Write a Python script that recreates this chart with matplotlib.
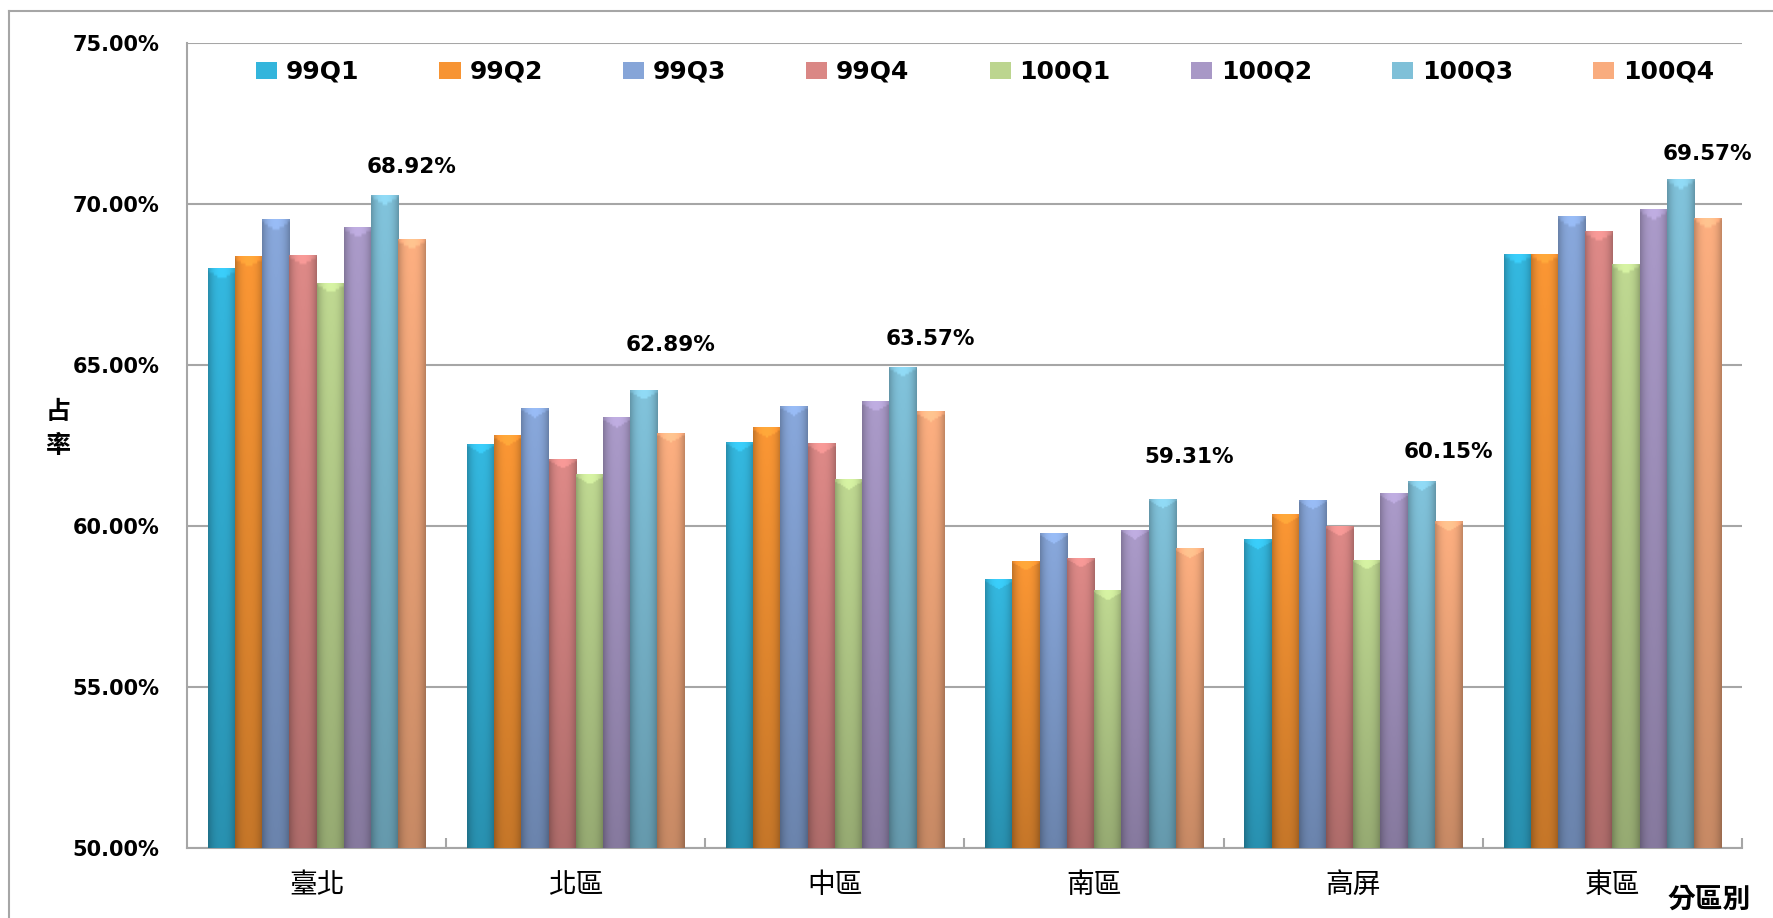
import numpy as np
import matplotlib
matplotlib.use("Agg")
import matplotlib.pyplot as plt
from matplotlib.colors import to_rgb
from matplotlib.lines import Line2D
from matplotlib.ticker import FuncFormatter

# values (percent)
regions = ["臺北", "北區", "中區", "南區", "高屏", "東區"]
quarters = ["99Q1", "99Q2", "99Q3", "99Q4", "100Q1", "100Q2", "100Q3", "100Q4"]
q99_1 = [68.00, 62.56, 62.62, 58.35, 59.59, 68.46]
q99_2 = [68.37, 62.82, 63.07, 58.92, 60.36, 68.46]
q99_3 = [69.53, 63.68, 63.74, 59.77, 60.81, 69.62]
q99_4 = [68.43, 62.09, 62.57, 59.02, 60.00, 69.17]
q100_1 = [67.56, 61.60, 61.45, 58.01, 58.95, 68.15]
q100_2 = [69.29, 63.37, 63.88, 59.88, 61.02, 69.83]
q100_3 = [70.29, 64.23, 64.95, 60.84, 61.41, 70.79]
q100_4 = [68.92, 62.89, 63.57, 59.31, 60.15, 69.57]
series = [q99_1, q99_2, q99_3, q99_4, q100_1, q100_2, q100_3, q100_4]

colors = ["#33B5DC", "#F79433", "#86A5D8", "#DA8785",
          "#BCD58F", "#A898C6", "#7FC0D8", "#F9AC7E"]
# how far the 100Q4 label sits above the tallest bar of each group
label_lift = [0.85, 1.4, 0.85, 1.3, 0.9, 0.75]

W, H = 1773, 918
cjk = ["Noto Sans CJK TC", "DejaVu Sans"]
grey = "#a6a6a6"


def shade(ax, bar, base):
    x0, y0 = bar.get_x(), bar.get_y()
    w, h = bar.get_width(), bar.get_height()
    u = np.linspace(0, 1, 24)[None, :]
    v = np.linspace(0, 1, 240)[:, None]
    fac = (0.80 + 0.22 * v) * (1 - 0.22 * np.abs(2 * u - 1) ** 2.5)
    # lighter bevel at the top
    dist = (1 - v) * h
    bevel = dist < 0.30 * (1 - 0.8 * np.abs(2 * u - 1))
    fac = np.where(bevel, fac * 1.12, fac)
    img = np.clip(np.array(to_rgb(base))[None, None, :] * fac[:, :, None], 0, 1)
    im = ax.imshow(img, extent=(x0, x0 + w, y0, y0 + h), origin="lower",
                   aspect="auto", interpolation="bilinear", zorder=3.2)
    im.set_clip_path(bar)


fig = plt.figure(figsize=(W / 100, H / 100), dpi=100)
ax = fig.add_axes([187 / W, 1 - 848 / H, (1742 - 187) / W, (848 - 43) / H])

x = np.arange(len(regions))
bw = 0.105
for j, (vals, c) in enumerate(zip(series, colors)):
    vals = np.array(vals)
    bars = ax.bar(x + (j - 3.5) * bw, vals - 50, bw, bottom=50, color=c,
                  linewidth=0, label=quarters[j], zorder=3)
    for b in bars:
        shade(ax, b, c)

tops = np.max(np.array(series), axis=0)
for i in range(len(regions)):
    ax.text(x[i] + 3.5 * bw, tops[i] + label_lift[i], f"{q100_4[i]:.2f}%",
            ha="center", va="center", fontsize=15.5, fontweight="bold",
            family="DejaVu Sans", zorder=5)

ax.set_xlim(-0.5, len(regions) - 0.5)
ax.set_ylim(50, 75)
ax.set_yticks(np.arange(50, 76, 5))
ax.yaxis.set_major_formatter(FuncFormatter(lambda v, p: f"{v:.2f}%"))
ax.tick_params(axis="y", length=0, pad=20, labelsize=15)
for t in ax.get_yticklabels():
    t.set_fontweight("bold")
ax.set_xticks(x)
ax.set_xticklabels(regions, family=cjk, fontsize=20)
ax.set_xticks(np.arange(0.5, len(regions)), minor=True)
ax.tick_params(axis="x", which="major", length=0, pad=16)
ax.tick_params(axis="x", which="minor", direction="in", length=7,
               color=grey, width=1.5)

ax.yaxis.grid(True, color=grey, lw=1.5, zorder=0)
ax.set_axisbelow(True)
for s in ["top", "right"]:
    ax.spines[s].set_visible(False)
for s in ["left", "bottom"]:
    ax.spines[s].set_color(grey)
    ax.spines[s].set_linewidth(1.5)

ax.legend(ncol=8, loc="center", bbox_to_anchor=(985 / W, 1 - 72 / H),
          bbox_transform=fig.transFigure, frameon=False,
          prop={"family": "DejaVu Sans", "weight": "bold", "size": 18},
          handlelength=0.85, handleheight=0.7, handletextpad=0.35,
          columnspacing=3.2)

for ch, yy in zip("占率", [412, 446]):
    fig.text(58 / W, 1 - yy / H, ch, ha="center", va="center",
             family=cjk, fontsize=18, fontweight="bold")
fig.text(1709 / W, 1 - 900 / H, "分區別", ha="center", va="center",
         family=cjk, fontsize=20, fontweight="bold")

fig.add_artist(Line2D([9 / W, 9 / W], [0, 1 - 11 / H], transform=fig.transFigure,
                      color=grey, lw=1.5))
fig.add_artist(Line2D([9 / W, 1], [1 - 11 / H, 1 - 11 / H],
                      transform=fig.transFigure, color=grey, lw=1.5))

fig.savefig("out.png", dpi=100)
